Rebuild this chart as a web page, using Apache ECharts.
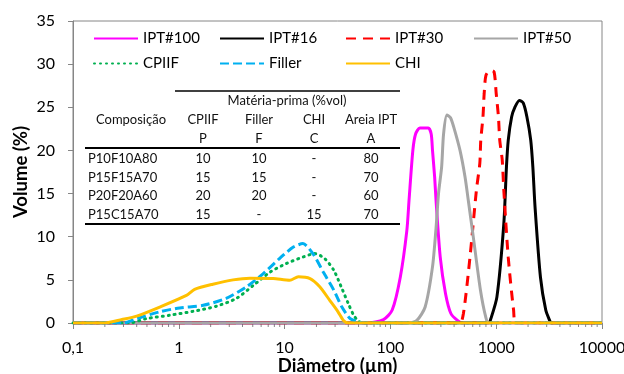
<!DOCTYPE html>
<html>
<head>
<meta charset="utf-8">
<script src="https://cdn.jsdelivr.net/npm/echarts@6/dist/echarts.min.js"></script>
<style>
  html, body { margin: 0; padding: 0; background: #fff; }
  #chart { width: 624px; height: 374px; }
</style>
</head>
<body>
<div id="chart"></div>
<script>
// particle size distributions: [diameter (um), volume (%)]
const ipt100 = [[0.1, 0], [60, 0], [86, 0.4], [104, 1.5], [124, 5.3], [143, 10.7], [150, 14.2], [163, 20], [173, 21.9],
  [190, 22.6], [228, 22.6], [243, 21.9], [250, 20], [262, 16.9], [270, 14.2], [296, 7.6], [332, 3.4], [373, 1.1],
  [430, 0.3], [480, 0], [10000, 0]];
const ipt16 = [[0.1, 0], [850, 0], [880, 0.3], [1015, 3.0], [1180, 11.5], [1250, 18.1], [1300, 21.2], [1400, 23.9],
  [1500, 25], [1656, 25.8], [1800, 25.5], [1950, 23.9], [2120, 21.2], [2220, 18.1], [2330, 13.4], [2620, 5.3],
  [2940, 1.5], [3200, 0.3], [3300, 0], [10000, 0]];
const ipt30 = [[0.1, 0], [450, 0], [490, 1.1], [565, 7.6], [650, 15.4], [700, 18.5], [715, 21.2], [750, 23.9],
  [770, 26.6], [800, 28.7], [880, 29.3], [955, 29.1], [1000, 26.6], [1050, 23.9], [1080, 21.2], [1140, 18.9],
  [1180, 15.4], [1300, 7.6], [1460, 1.5], [1550, 0], [10000, 0]];
const ipt50 = [[0.1, 0], [150, 0], [178, 0.3], [213, 1.85], [250, 6.5], [270, 11], [285, 15], [305, 18.1], [318, 21.9],
  [342, 24.1], [370, 23.8], [397, 22.7], [455, 20], [508, 16.9], [545, 14.2], [613, 9.6], [710, 3.8], [796, 0.7],
  [850, 0], [10000, 0]];
const cpiif = [[0.1, 0], [0.34, 0], [0.49, 0.5], [0.82, 0.9], [1.36, 1.35], [2.27, 1.95], [3.5, 2.85], [5.06, 4.35],
  [7.3, 5.9], [10.4, 6.9], [15, 7.65], [19.3, 8.05], [24, 7.45], [29.2, 6.1], [34.8, 4.0], [40, 2.25], [45, 0.9],
  [50, 0.2], [55, 0], [10000, 0]];
const filler = [[0.1, 0], [0.3, 0], [0.4, 0.5], [0.66, 1.3], [1.02, 1.75], [1.7, 2.05], [2.8, 2.85], [4.36, 4.2],
  [6.25, 5.7], [9, 7.5], [12.1, 8.8], [14.9, 9.2], [18.6, 8.0], [23.2, 5.9], [29.2, 3.8], [34.8, 1.85], [41.7, 0.5],
  [48, 0.2], [55, 0], [10000, 0]];
const chi = [[0.1, 0], [0.2, 0], [0.29, 0.4], [0.4, 0.8], [0.66, 1.85], [1.18, 3.2], [1.41, 3.9], [2.1, 4.5],
  [3.26, 5.0], [4.7, 5.2], [7.8, 5.15], [11.2, 4.95], [13.5, 5.35], [17.4, 5.15], [21.5, 4.2], [26.8, 2.6], [32, 1.3],
  [36, 0.3], [40, 0], [10000, 0]];

// log minor tick positions
const minorTicks = [0.2, 0.3, 0.4, 0.5, 0.6, 0.7, 0.8, 0.9, 2, 3, 4, 5, 6, 7, 8, 9, 20, 30, 40, 50, 60, 70, 80, 90,
  200, 300, 400, 500, 600, 700, 800, 900, 2000, 3000, 4000, 5000, 6000, 7000, 8000, 9000];

// inset table
const tableTitle = 'Matéria-prima (%vol)';
const tableHeader = ['Composição', 'CPIIF', 'Filler', 'CHI', 'Areia IPT'];
const tableSymbols = ['', 'P', 'F', 'C', 'A'];
const tableRows = [
  ['P10F10A80', '10', '10', '-', '80'],
  ['P15F15A70', '15', '15', '-', '70'],
  ['P20F20A60', '20', '20', '-', '60'],
  ['P15C15A70', '15', '-', '15', '70']
];

const FONT = 'Lato, "Open Sans", sans-serif';
const AXIS = '#868686';

const seriesDefs = [
  { name: 'IPT#100', data: ipt100, color: '#FF00FF', type: 'solid' },
  { name: 'IPT#16', data: ipt16, color: '#000000', type: 'solid' },
  { name: 'IPT#30', data: ipt30, color: '#FF0000', type: [10, 7] },
  { name: 'IPT#50', data: ipt50, color: '#A6A6A6', type: 'solid' },
  { name: 'CPIIF', data: cpiif, color: '#00B050', type: [1, 5], cap: 'round' },
  { name: 'Filler', data: filler, color: '#00B0F0', type: [9, 4] },
  { name: 'CHI', data: chi, color: '#FFC000', type: 'solid' }
];

// legend laid out as a 4 + 3 grid
const legendCols = [88, 214, 340, 468];
const legendRows = [26, 51];
const legends = seriesDefs.map((s, i) => ({
  data: [s.name],
  left: legendCols[i < 4 ? i : i - 4],
  top: legendRows[i < 4 ? 0 : 1],
  itemWidth: 44,
  itemHeight: 14,
  itemGap: 0,
  selectedMode: false,
  itemStyle: { opacity: 0 },
  textStyle: { fontFamily: FONT, fontSize: 15, color: '#000' }
}));

// table graphic
const colX = [131, 203, 259, 314, 371];
const rowY = [159, 177.5, 196, 215];
const txt = (x, y, t, align) => ({
  type: 'text', x: x, y: y, silent: true,
  style: { text: t, fontFamily: FONT, fontSize: 13, fill: '#111', align: align || 'center', verticalAlign: 'middle' }
});
const hline = (x1, x2, y, w) => ({
  type: 'line', silent: true,
  shape: { x1: x1, y1: y, x2: x2, y2: y },
  style: { stroke: '#000', lineWidth: w }
});
const table = [
  hline(175, 400, 91, 1.5),
  txt(287, 101, tableTitle),
  hline(85, 400, 148, 2),
  hline(85, 400, 224, 2)
];
tableHeader.forEach((h, i) => table.push(txt(colX[i], 120, h)));
tableSymbols.forEach((h, i) => { if (h) table.push(txt(colX[i], 139, h)); });
tableRows.forEach((r, j) => {
  r.forEach((c, i) => {
    table.push(i === 0 ? txt(88, rowY[j], c, 'left') : txt(colX[i], rowY[j], c));
  });
});

const chart = echarts.init(document.getElementById('chart'), null, { renderer: 'canvas' });

chart.setOption({
  animation: false,
  backgroundColor: '#fff',
  textStyle: { fontFamily: FONT },
  grid: {
    left: 73, right: 22, top: 21, bottom: 51,
    outerBoundsMode: 'none',
    show: true, borderColor: AXIS, borderWidth: 1
  },
  legend: legends,
  graphic: table,
  xAxis: {
    type: 'log',
    logBase: 10,
    min: 0.1,
    max: 10000,
    name: 'Diâmetro (µm)',
    nameLocation: 'middle',
    nameGap: 34,
    nameMoveOverlap: false,
    nameTextStyle: { fontFamily: FONT, fontSize: 18.5, fontWeight: 'bold', color: '#000' },
    axisLine: { lineStyle: { color: AXIS } },
    axisTick: { length: 6, lineStyle: { color: AXIS } },
    splitLine: { show: false },
    axisLabel: {
      margin: 17,
      fontFamily: FONT, fontSize: 16, color: '#000',
      formatter: (v) => String(v).replace('.', ',')
    }
  },
  yAxis: {
    type: 'value',
    min: 0,
    max: 35,
    interval: 5,
    name: 'Volume (%)',
    nameLocation: 'middle',
    nameGap: 42,
    nameMoveOverlap: false,
    nameTextStyle: { fontFamily: FONT, fontSize: 18.5, fontWeight: 'bold', color: '#000' },
    axisLine: { show: true, lineStyle: { color: AXIS } },
    axisTick: { show: true, length: 5, lineStyle: { color: AXIS } },
    splitLine: { show: false },
    axisLabel: { margin: 18, fontFamily: FONT, fontSize: 16, color: '#000' }
  },
  series: seriesDefs.map((s) => ({
    name: s.name,
    type: 'line',
    data: s.data,
    symbol: 'none',
    smooth: 0.25,
    color: s.color,
    lineStyle: { color: s.color, width: 3, type: s.type, cap: s.cap || 'butt' }
  })).concat([{
    type: 'custom',
    silent: true,
    clip: false,
    data: minorTicks.map((v) => [v, 0]),
    renderItem: (params, api) => {
      const p = api.coord([api.value(0), 0]);
      return {
        type: 'line',
        shape: { x1: p[0], y1: p[1], x2: p[0], y2: p[1] + 4 },
        style: { stroke: AXIS, lineWidth: 1 }
      };
    }
  }])
});
</script>
</body>
</html>
